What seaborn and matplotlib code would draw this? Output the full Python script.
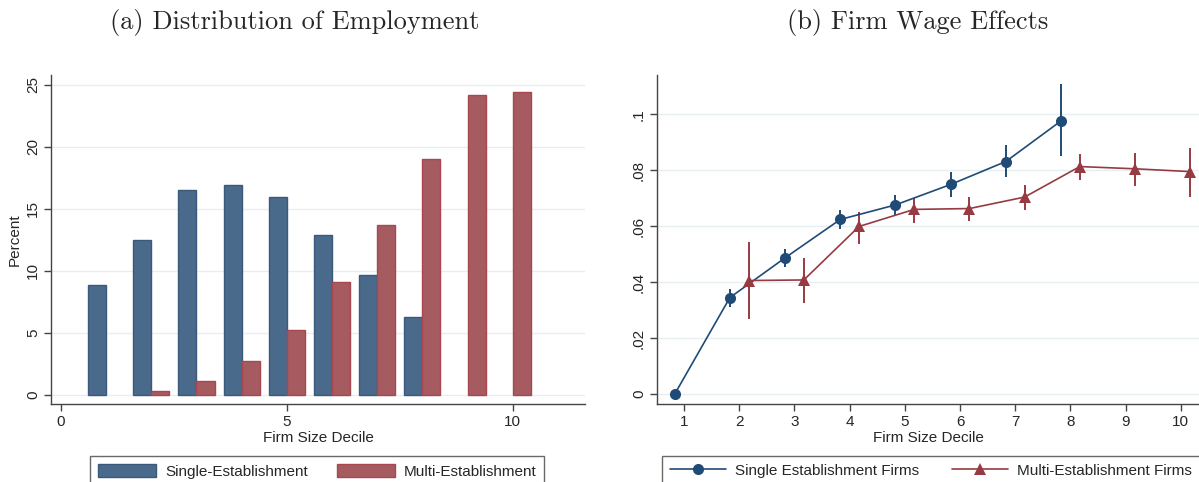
import numpy as np
import pandas as pd
import matplotlib
matplotlib.use("Agg")
import matplotlib.pyplot as plt
import seaborn as sns
from matplotlib.patches import Patch
from matplotlib.lines import Line2D

# ---------------- data ----------------
deciles = [1, 2, 3, 4, 5, 6, 7, 8, 9, 10]
single_share = [8.9, 12.5, 16.5, 16.9, 16.0, 12.9, 9.7, 6.3, np.nan, np.nan]
multi_share = [np.nan, 0.3, 1.1, 2.7, 5.2, 9.1, 13.7, 19.0, 24.2, 24.4]

single_deciles = [1, 2, 3, 4, 5, 6, 7, 8]
single_effect = [0.0, 0.0345, 0.0487, 0.0624, 0.0676, 0.0749, 0.0831, 0.0976]
single_lo = [0.0, 0.0313, 0.0455, 0.0589, 0.0640, 0.0706, 0.0774, 0.0849]
single_hi = [0.0, 0.0376, 0.0518, 0.0657, 0.0712, 0.0792, 0.0889, 0.1107]

multi_deciles = [2, 3, 4, 5, 6, 7, 8, 9, 10]
multi_effect = [0.0406, 0.0408, 0.0599, 0.0660, 0.0663, 0.0704, 0.0813, 0.0805, 0.0795]
multi_lo = [0.0268, 0.0325, 0.0538, 0.0613, 0.0618, 0.0657, 0.0765, 0.0742, 0.0706]
multi_hi = [0.0544, 0.0486, 0.0649, 0.0702, 0.0705, 0.0746, 0.0857, 0.0862, 0.0881]

left_yticks = [0, 5, 10, 15, 20, 25]
left_xticks = [0, 5, 10]
right_yticks = [0, 0.02, 0.04, 0.06, 0.08, 0.1]
right_yticklabels = ["0", ".02", ".04", ".06", ".08", ".1"]

bar_labels = ["Single-Establishment", "Multi-Establishment"]
line_labels = ["Single Establishment Firms", "Multi-Establishment Firms"]
titles = ["(a) Distribution of Employment", "(b) Firm Wage Effects"]
xlabel = "Firm Size Decile"
ylabel_left = "Percent"

# ---------------- style ----------------
sns.set_style("white")
plt.rcParams["font.family"] = ["Liberation Sans", "DejaVu Sans"]

bar_blue, bar_blue_edge = "#4a6a8b", "#3b5a7b"
bar_red, bar_red_edge = "#a65b61", "#a8474f"
line_blue, line_red = "#1f4b76", "#973a42"
grid_c = "#e6eef1"
spine_c = "#444444"

fig = plt.figure(figsize=(11.99, 4.82), dpi=100)
W, H = 1199, 482
ax1 = fig.add_axes([51 / W, 1 - 404 / H, (585 - 51) / W, (404 - 75) / H])
ax2 = fig.add_axes([657 / W, 1 - 404 / H, (1199 - 657) / W, (404 - 75) / H])

# ---------------- left: bars ----------------
df = pd.DataFrame({
    "decile": deciles * 2,
    "share": single_share + multi_share,
    "type": [bar_labels[0]] * len(deciles) + [bar_labels[1]] * len(deciles),
}).dropna()
sns.barplot(data=df, x="decile", y="share", hue="type", native_scale=True,
            palette={bar_labels[0]: bar_blue, bar_labels[1]: bar_red},
            hue_order=bar_labels, width=0.8, saturation=1, legend=False,
            errorbar=None, ax=ax1)
for p in ax1.patches:
    fc = matplotlib.colors.to_hex(p.get_facecolor())
    p.set_edgecolor(bar_blue_edge if fc == bar_blue else bar_red_edge)
    p.set_linewidth(1.0)

ax1.set_xlim(-0.22, 11.6)
ax1.set_ylim(-0.73, 25.8)
ax1.set_xticks(left_xticks)
ax1.set_xticklabels([str(v) for v in left_xticks])
ax1.set_yticks(left_yticks)
ax1.set_yticklabels([str(v) for v in left_yticks], rotation=90, va="center")
ax1.set_xlabel(xlabel, fontsize=11, labelpad=1)
ax1.set_ylabel(ylabel_left, fontsize=11, labelpad=3)

# ---------------- right: lines ----------------
sdf = pd.DataFrame({"x": np.array(single_deciles) - 0.17, "y": single_effect})
mdf = pd.DataFrame({"x": np.array(multi_deciles) + 0.17, "y": multi_effect})
ax2.vlines(sdf["x"], single_lo, single_hi, color=line_blue, lw=1.4, zorder=2)
ax2.vlines(mdf["x"], multi_lo, multi_hi, color=line_red, lw=1.4, zorder=2)
sns.lineplot(data=sdf, x="x", y="y", ax=ax2, color=line_blue, lw=1.2,
             marker="o", markersize=8, markeredgewidth=0, errorbar=None,
             estimator=None, sort=False, zorder=3)
sns.lineplot(data=mdf, x="x", y="y", ax=ax2, color=line_red, lw=1.2,
             marker="^", markersize=8.5, markeredgewidth=0, errorbar=None,
             estimator=None, sort=False, zorder=3)
ax2.set_xlim(0.51, 10.33)
ax2.set_ylim(-0.0035, 0.114)
ax2.set_xticks(deciles)
ax2.set_xticklabels([str(v) for v in deciles])
ax2.set_yticks(right_yticks)
ax2.set_yticklabels(right_yticklabels, rotation=90, va="center")
ax2.set_xlabel(xlabel, fontsize=11, labelpad=1)
ax2.set_ylabel("")

for ax in (ax1, ax2):
    ax.grid(axis="y", color=grid_c, lw=1.0)
    ax.grid(axis="x", visible=False)
    ax.set_axisbelow(True)
    for s in ("top", "right"):
        ax.spines[s].set_visible(False)
    for s in ("left", "bottom"):
        ax.spines[s].set_color(spine_c)
        ax.spines[s].set_linewidth(1.0)
    ax.tick_params(axis="both", direction="out", length=5, width=1,
                   color=spine_c, labelsize=11, pad=3, bottom=True, left=True)

# ---------------- legends ----------------
h1 = [Patch(facecolor=bar_blue, edgecolor=bar_blue_edge),
      Patch(facecolor=bar_red, edgecolor=bar_red_edge)]
leg1 = ax1.legend(h1, bar_labels, loc="upper left", bbox_to_anchor=(39 / 534, -52 / 329),
                  ncol=2, fontsize=11, frameon=True, fancybox=False,
                  handlelength=3.8, handleheight=1.0, columnspacing=1.9,
                  borderpad=0.5, handletextpad=0.6, borderaxespad=0)
leg1.get_frame().set_edgecolor(spine_c)
leg1.get_frame().set_linewidth(1.0)

h2 = [Line2D([], [], color=line_blue, lw=1.2, marker="o", markersize=8, markeredgewidth=0),
      Line2D([], [], color=line_red, lw=1.2, marker="^", markersize=8.5, markeredgewidth=0)]
leg2 = ax2.legend(h2, line_labels, loc="upper left", bbox_to_anchor=(5 / 542, -52 / 329),
                  ncol=2, fontsize=11, frameon=True, fancybox=False,
                  handlelength=3.7, columnspacing=2.1, borderpad=0.5,
                  handletextpad=0.6, borderaxespad=0)
leg2.get_frame().set_edgecolor(spine_c)
leg2.get_frame().set_linewidth(1.0)

# ---------------- titles ----------------
fig.text(295 / W, 1 - 22 / H, titles[0], fontsize=19, family="cmr10",
         ha="center", va="center")
fig.text(918 / W, 1 - 22 / H, titles[1], fontsize=19, family="cmr10",
         ha="center", va="center")

fig.savefig("out.png", dpi=100, facecolor="white")
